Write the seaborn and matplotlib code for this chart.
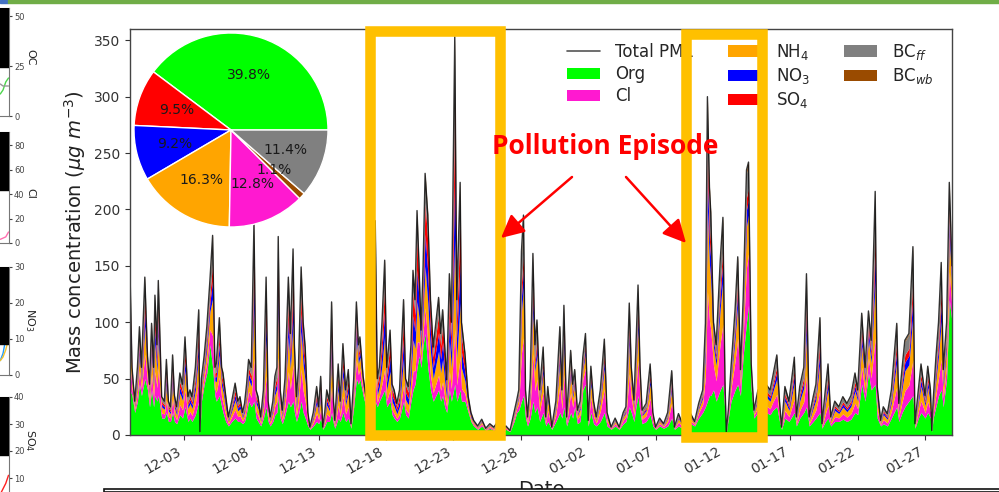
import numpy as np
import pandas as pd
import seaborn as sns
import matplotlib
matplotlib.use('Agg')
import matplotlib.pyplot as plt
from matplotlib.patches import Rectangle, FancyArrowPatch, Patch
from matplotlib.lines import Line2D
import matplotlib.dates as mdates

sns.set_style('ticks')
plt.rcParams['font.family'] = ['DejaVu Sans']

# ---- data ----
# days since 2018-11-29 00:00, total PM1 and Org (ug/m3)
day_offset = [0.00, 0.15, 0.35, 0.55, 0.70, 0.85, 1.10, 1.30, 1.45, 1.60, 1.75, 1.85, 2.00, 2.10, 2.35, 2.55,
              2.70, 2.85, 3.00, 3.16, 3.30, 3.46, 3.70, 3.90, 4.08, 4.30, 4.45, 4.60, 4.85, 5.10, 5.19, 5.30,
              5.50, 5.70, 5.93, 6.13, 6.30, 6.40, 6.63, 6.80, 6.90, 7.10, 7.30, 7.55, 7.80, 8.00, 8.16, 8.35,
              8.50, 8.65, 8.80, 9.00, 9.20, 9.35, 9.50, 9.70, 9.90, 10.10, 10.25, 10.40, 10.60, 10.75, 10.90, 11.00,
              11.15, 11.30, 11.50, 11.75, 11.90, 12.10, 12.20, 12.35, 12.50, 12.70, 12.85, 13.00, 13.20, 13.35, 13.60, 13.85,
              14.00, 14.15, 14.30, 14.45, 14.60, 14.80, 14.96, 15.10, 15.20, 15.45, 15.60, 15.80, 16.00, 16.20, 16.40, 16.60,
              16.80, 16.95, 17.06, 17.30, 17.50, 17.70, 17.90, 18.05, 18.20, 18.35, 18.50, 18.70, 18.90, 19.05, 19.30, 19.45,
              19.60, 19.80, 20.00, 20.30, 20.45, 20.65, 20.85, 21.00, 21.15, 21.30, 21.45, 21.60, 21.75, 21.90, 22.10, 22.30,
              22.50, 22.70, 22.90, 23.05, 23.20, 23.35, 23.50, 23.70, 23.85, 24.10, 24.25, 24.50, 24.60, 24.85, 25.10, 25.30,
              25.50, 25.80, 26.10, 26.40, 26.70, 27.00, 27.30, 27.60, 27.90, 28.20, 28.50, 28.70, 28.85, 29.05, 29.20, 29.35,
              29.50, 29.70, 29.90, 30.05, 30.20, 30.40, 30.66, 30.85, 31.00, 31.30, 31.60, 31.90, 32.05, 32.20, 32.40, 32.70,
              32.85, 33.00, 33.20, 33.40, 33.60, 33.80, 34.00, 34.20, 34.40, 34.60, 34.90, 35.20, 35.40, 35.70, 36.00, 36.30,
              36.60, 36.80, 37.05, 37.20, 37.40, 37.55, 37.70, 37.85, 38.00, 38.30, 38.60, 38.80, 39.00, 39.30, 39.60, 39.90,
              40.20, 40.40, 40.70, 41.00, 41.30, 41.60, 41.90, 42.20, 42.50, 42.70, 42.85, 43.00, 43.10, 43.30, 43.50, 43.80,
              44.00, 44.15, 44.25, 44.40, 44.60, 44.90, 45.10, 45.30, 45.50, 45.75, 45.90, 46.10, 46.30, 46.60, 46.90, 47.20,
              47.50, 47.70, 48.00, 48.20, 48.35, 48.60, 48.90, 49.30, 49.45, 49.70, 50.00, 50.20, 50.40, 50.70, 50.90, 51.20,
              51.35, 51.60, 51.80, 52.00, 52.30, 52.60, 52.90, 53.20, 53.50, 53.80, 54.00, 54.30, 54.55, 54.80, 55.00, 55.30,
              55.45, 55.70, 55.90, 56.20, 56.50, 56.90, 57.05, 57.30, 57.50, 57.80, 58.10, 58.25, 58.50, 58.70, 59.00, 59.20,
              59.40, 59.50, 59.60, 59.80, 60.00, 60.20, 60.35, 60.60, 60.80, 61.00]
total_pm1 = [145, 60, 30, 60, 96, 60, 140, 70, 45, 99, 60, 124, 80, 137, 34, 30,
             67, 30, 25, 71, 35, 25, 55, 45, 87, 34, 40, 34, 60, 111, 3, 50,
             70, 96, 137, 177, 60, 63, 104, 60, 55, 35, 16, 30, 46, 30, 34, 20,
             28, 45, 67, 60, 189, 40, 34, 16, 40, 140, 30, 16, 30, 52, 60, 176,
             40, 22, 50, 140, 90, 165, 80, 34, 60, 149, 100, 78, 20, 7, 20, 43,
             25, 52, 7, 20, 40, 30, 118, 30, 13, 63, 30, 81, 40, 58, 10, 50,
             118, 80, 87, 52, 35, 30, 45, 20, 190, 50, 60, 100, 155, 60, 93, 45,
             40, 28, 40, 120, 50, 43, 80, 146, 120, 199, 150, 93, 150, 232, 195, 120,
             78, 100, 122, 90, 111, 80, 49, 143, 100, 353, 120, 224, 100, 73, 34, 20,
             13, 8, 14, 6, 10, 7, 12, 5, 8, 4, 20, 31, 40, 163, 195, 40,
             16, 50, 161, 80, 102, 40, 78, 16, 43, 7, 30, 96, 40, 115, 16, 75,
             45, 58, 22, 30, 69, 90, 13, 61, 30, 16, 40, 85, 20, 7, 15, 7,
             20, 25, 117, 60, 31, 80, 133, 60, 22, 28, 63, 20, 7, 15, 10, 20,
             57, 7, 19, 10, 15, 19, 12, 28, 40, 99, 300, 220, 197, 100, 80, 155,
             193, 49, 3, 22, 60, 111, 158, 58, 120, 235, 242, 63, 22, 40, 28, 45,
             40, 52, 71, 30, 7, 43, 30, 69, 16, 43, 60, 143, 16, 34, 45, 104,
             10, 40, 63, 16, 30, 25, 34, 28, 35, 55, 40, 108, 60, 110, 84, 216,
             43, 13, 25, 19, 40, 99, 28, 60, 84, 90, 167, 10, 40, 63, 35, 61,
             40, 4, 30, 68, 100, 153, 58, 100, 224, 150]
org = [40, 35, 20, 30, 45, 35, 50, 40, 25, 40, 25, 35, 30, 35, 15, 15,
       20, 12, 12, 20, 12, 10, 18, 15, 25, 12, 15, 12, 18, 30, 2, 30,
       45, 55, 80, 60, 35, 30, 35, 25, 20, 12, 8, 12, 15, 12, 12, 10,
       12, 20, 30, 25, 30, 15, 12, 8, 15, 25, 12, 8, 12, 18, 20, 35,
       15, 10, 18, 30, 25, 30, 20, 12, 18, 30, 20, 15, 8, 5, 8, 12,
       10, 15, 5, 8, 12, 12, 20, 10, 6, 15, 12, 20, 12, 15, 6, 25,
       50, 45, 50, 35, 25, 20, 25, 12, 30, 25, 30, 35, 40, 25, 30, 18,
       15, 12, 15, 30, 18, 15, 30, 40, 45, 60, 70, 60, 80, 90, 60, 40,
       30, 35, 40, 30, 35, 25, 20, 40, 30, 45, 30, 40, 30, 30, 20, 12,
       8, 5, 8, 4, 6, 4, 7, 3, 5, 3, 12, 20, 22, 30, 35, 15,
       8, 15, 30, 20, 25, 12, 20, 8, 12, 5, 12, 20, 15, 25, 8, 20,
       15, 25, 10, 12, 40, 45, 8, 20, 10, 8, 12, 20, 8, 5, 8, 5,
       10, 12, 25, 20, 12, 25, 35, 20, 10, 12, 18, 8, 5, 8, 6, 8,
       15, 5, 8, 6, 8, 10, 8, 15, 20, 25, 30, 35, 35, 40, 30, 40,
       45, 20, 2, 15, 30, 40, 45, 35, 70, 100, 115, 40, 15, 20, 15, 20,
       18, 22, 25, 12, 5, 15, 12, 20, 8, 15, 20, 25, 8, 12, 15, 20,
       6, 12, 15, 8, 12, 12, 14, 12, 14, 20, 18, 45, 30, 55, 40, 45,
       15, 8, 10, 8, 15, 25, 12, 20, 25, 30, 35, 6, 15, 20, 15, 20,
       15, 3, 15, 25, 35, 40, 25, 50, 120, 100]

# share of the non-Org part, per period (period start in days)
period_start = [0, 18, 25.5, 42, 46.5]
cl_share = [0.24, 0.16, 0.32, 0.36, 0.24]
nh4_share = [0.28, 0.26, 0.28, 0.27, 0.30]
no3_share = [0.14, 0.20, 0.10, 0.11, 0.13]
so4_share = [0.13, 0.20, 0.09, 0.08, 0.11]
bcff_share = [0.19, 0.16, 0.19, 0.16, 0.20]
bcwb_share = [0.02, 0.02, 0.02, 0.02, 0.02]

# pie (campaign mean shares, %)
pie_labels = ['Org', 'SO4', 'NO3', 'NH4', 'Cl', 'BCwb', 'BCff']
pie_values = [39.8, 9.5, 9.2, 16.3, 12.8, 1.1, 11.4]

tick_dates = pd.date_range('2018-12-03', periods=12, freq='5D')

# left strip (cropped neighbour figure)
strip_names = ['OC', 'Cl', 'NO$_3$', 'SO$_4$']
strip_ylim = [54, 91, 30, 40]
strip_ticks = [[0, 25, 50], [0, 20, 40, 60, 80], [0, 10, 20, 30], [10, 20, 30, 40]]
strip_x = [8.8, 9.2, 9.6, 10.0]
oc_a = [11, 13, 17, 19]
oc_b = [16, 15, 15, 15]
cl_a = [3, 4, 5, 9]
no3_a = [4, 6, 10, 16]
no3_b = [4, 5, 7, 10]
so4_a = [4, 6, 8, 11]

colors = {'Org': '#00FF00', 'Cl': '#FF19D0', 'NH4': '#FFA500', 'NO3': '#0000FF',
          'SO4': '#FF0000', 'BCff': '#808080', 'BCwb': '#9A4B00'}

assert len(day_offset) == len(total_pm1) == len(org)

start = pd.Timestamp('2018-11-29')
times = start + pd.to_timedelta(np.array(day_offset), unit='D')
tot = np.array(total_pm1, float)
org_v = np.minimum(np.array(org, float), tot)
rest = tot - org_v
idx = np.searchsorted(period_start, day_offset, side='right') - 1
stack = [org_v]
for sh in [cl_share, nh4_share, no3_share, so4_share, bcff_share, bcwb_share]:
    stack.append(rest * np.array(sh)[idx])

W, H = 999, 492
def fx(px):
    return px / W
def fy(py):
    return 1 - py / H

fig = plt.figure(figsize=(W / 100, H / 100), dpi=100)

# main axes
ax = fig.add_axes([fx(130), fy(435), 822 / W, 406 / H])
ax.stackplot(times, *stack, colors=[colors[k] for k in ['Org', 'Cl', 'NH4', 'NO3', 'SO4', 'BCff', 'BCwb']],
             linewidth=0)
sns.lineplot(x=times, y=tot, ax=ax, color='k', lw=1.0, alpha=0.8)
ax.set_xlim(start, start + pd.Timedelta(days=61))
ax.set_ylim(0, 360)
ax.set_yticks(np.arange(0, 351, 50))
ax.set_xticks(tick_dates)
ax.xaxis.set_major_formatter(mdates.DateFormatter('%m-%d'))
plt.setp(ax.get_xticklabels(), rotation=30, ha='right')
ax.tick_params(labelsize=10, colors='#333333', length=3.5)
for s in ax.spines.values():
    s.set_color('#444444')
    s.set_linewidth(1)
ax.set_ylabel('Mass concentration ($\\mu g\\ m^{-3}$)', fontsize=14, color='#222222')
ax.set_xlabel('Date', fontsize=14, color='#222222', labelpad=2)

handles = [Line2D([], [], color='#555555', lw=1.2)]
names = ['Total PM1', 'Org', 'Cl', 'NH$_4$', 'NO$_3$', 'SO$_4$', 'BC$_{ff}$', 'BC$_{wb}$']
for k in ['Org', 'Cl', 'NH4', 'NO3', 'SO4', 'BCff', 'BCwb']:
    handles.append(Patch(facecolor=colors[k], edgecolor='none'))
ax.legend(handles, names, ncol=3, frameon=False, fontsize=12, loc='upper left',
          bbox_to_anchor=(fx(567), fy(42)), bbox_transform=fig.transFigure,
          borderpad=0, borderaxespad=0, labelspacing=0.25, handletextpad=0.9, columnspacing=2.0)

# pie inset
axp = fig.add_axes([fx(133), fy(227), 196 / W, 194 / H])
axp.pie(pie_values, colors=[colors[k] for k in pie_labels], autopct='%1.1f%%', startangle=0,
        textprops=dict(fontsize=10, color='#1a1a1a'))
axp.set_xlim(-1, 1)
axp.set_ylim(-1, 1)

# annotation overlays
gold = '#FFC000'
for (x0, y0, x1, y1) in [(369.5, 30.5, 500, 434.5), (686, 33.5, 762, 437)]:
    fig.add_artist(Rectangle((fx(x0), fy(y1)), (x1 - x0) / W, (y1 - y0) / H, transform=fig.transFigure,
                             fill=False, edgecolor=gold, lw=7.6, zorder=10))
fig.text(fx(605), fy(147), 'Pollution Episode', color='#FF0000', fontsize=19, fontweight='bold',
         family=['Open Sans', 'DejaVu Sans'], ha='center', va='center', zorder=11)
for (a, b) in [((572, 177), (501, 238)), ((626, 177), (686, 243))]:
    fig.add_artist(FancyArrowPatch((fx(a[0]), fy(a[1])), (fx(b[0]), fy(b[1])), transform=fig.transFigure,
                                   arrowstyle='-|>,head_length=0.7,head_width=0.35', mutation_scale=20,
                                   color='#FF0000', lw=1.8, shrinkA=0, shrinkB=0, zorder=11))

# slide decorations
fig.add_artist(Rectangle((0, fy(3)), fx(8), 3 / H, transform=fig.transFigure, color='#4472C4', zorder=12))
fig.add_artist(Rectangle((fx(8), fy(3)), fx(991), 3 / H, transform=fig.transFigure, color='#70AD47', zorder=12))
fig.add_artist(Rectangle((fx(104), 0), fx(900), 3 / H, transform=fig.transFigure, facecolor='white',
                         edgecolor='#111111', lw=1.2, zorder=12))

# left strip
strip_px = [(8, 116), (132, 243), (267, 375), (397, 505)]
strip_black = [0.55, 0.52, 0.71, 0.54]
strip_lines = [[(oc_a, '#4CD64C'), (oc_b, '#999999')], [(cl_a, '#FF6FB0')],
               [(no3_a, '#1E9BFF'), (no3_b, '#F2C12E')], [(so4_a, '#FF2020')]]
strip_label_y = [57, 193, 320, 440]
for i in range(4):
    t, b = strip_px[i]
    axs = fig.add_axes([fx(-60), fy(b), 68.5 / W, (b - t) / H])
    axs.set_xlim(0, 10)
    axs.set_ylim(0, strip_ylim[i])
    for (vals, c) in strip_lines[i]:
        axs.plot(strip_x, vals, color=c, lw=1)
    axs.add_patch(Rectangle((0, 1 - strip_black[i]), 1, strip_black[i], transform=axs.transAxes,
                            color='k', zorder=5))
    axs.yaxis.tick_right()
    axs.set_yticks(strip_ticks[i])
    axs.set_xticks([])
    axs.tick_params(labelsize=6, length=2.5, colors='#444444', pad=1.5)
    axs.spines['left'].set_visible(False)
    for s in ['right', 'bottom', 'top']:
        axs.spines[s].set_color('#777777')
        axs.spines[s].set_linewidth(0.8)
    fig.text(fx(30), fy(strip_label_y[i]), strip_names[i], rotation=270, fontsize=8,
             ha='center', va='center', color='#222222')

fig.savefig('out.png', dpi=100)
